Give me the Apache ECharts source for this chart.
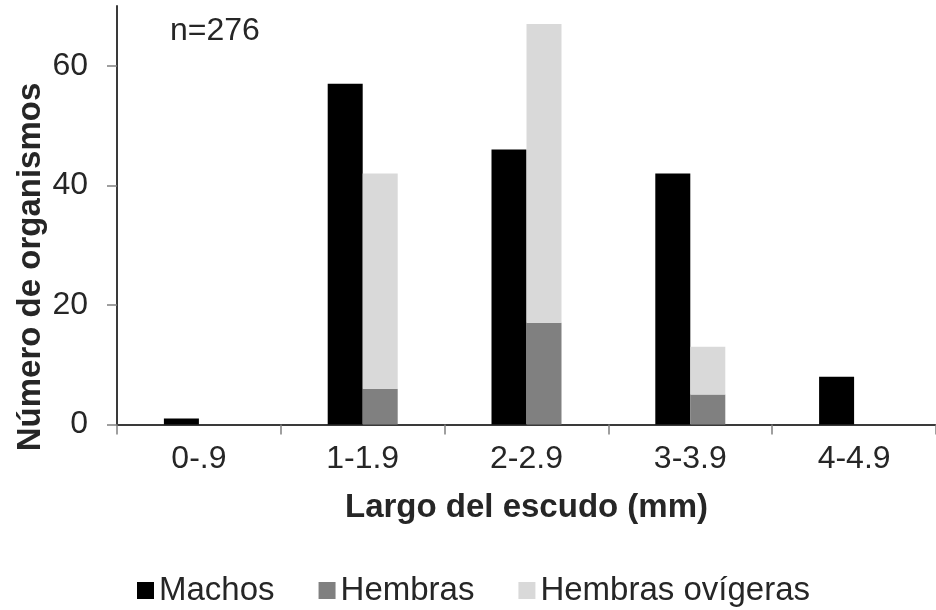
<!DOCTYPE html>
<html>
<head>
<meta charset="utf-8">
<script src="https://cdn.jsdelivr.net/npm/echarts@6/dist/echarts.min.js"></script>
<style>html,body{margin:0;padding:0;background:#fff;}#c{width:936px;height:610px;}</style>
</head>
<body>
<div id="c"></div>
<script>
const categories = ['0-.9', '1-1.9', '2-2.9', '3-3.9', '4-4.9'];
const machos = [1, 57, 46, 42, 8];
const hembras = [0, 6, 17, 5, 0];
const hembrasOvigeras = [0, 36, 50, 8, 0];
const yTicks = [0, 20, 40, 60];
const seriesNames = ['Machos', 'Hembras', 'Hembras ovígeras'];
const sampleLabel = 'n=276';

const FONT = 'Liberation Sans, Arial, sans-serif';
const TXT = '#262626';

const chart = echarts.init(document.getElementById('c'), null, {renderer: 'canvas'});
chart.setOption({
  animation: false,
  backgroundColor: '#ffffff',
  textStyle: {fontFamily: FONT},
  grid: {left: 117, width: 824, top: 6, height: 418.5, containLabel: false},
  legend: {
    data: seriesNames,
    left: 137,
    top: 574,
    padding: 0,
    itemWidth: 17,
    itemHeight: 17,
    itemGap: 44,
    icon: 'rect',
    textStyle: {fontFamily: FONT, fontSize: 33, color: TXT}
  },
  graphic: [
    {type: 'text', left: 170, top: 15, style: {text: sampleLabel, font: '32px ' + FONT, fill: TXT}},
    {type: 'text', x: 31, y: 267, rotation: Math.PI / 2,
     style: {text: 'Número de organismos', font: 'bold 33px ' + FONT, fill: TXT, align: 'center', verticalAlign: 'middle'}}
  ],
  xAxis: {
    type: 'category',
    data: categories,
    name: 'Largo del escudo (mm)',
    nameLocation: 'middle',
    nameGap: 67,
    nameTextStyle: {fontFamily: FONT, fontSize: 33, fontWeight: 'bold', color: TXT},
    axisLine: {show: true, lineStyle: {color: '#3a3a3a', width: 2}},
    axisTick: {show: true, alignWithLabel: false, length: 10, lineStyle: {color: '#808080', width: 1.5}},
    axisLabel: {fontFamily: FONT, fontSize: 32, color: TXT, margin: 19, interval: 0},
    splitLine: {show: false}
  },
  yAxis: {
    type: 'value',
    min: 0,
    max: 70,
    interval: 20,
    axisLine: {show: true, lineStyle: {color: '#3a3a3a', width: 2}},
    axisTick: {show: true, length: 10, customValues: yTicks, lineStyle: {color: '#808080', width: 1.5}},
    axisLabel: {fontFamily: FONT, fontSize: 32, color: TXT, margin: 29, customValues: yTicks},
    splitLine: {show: false}
  },
  series: [
    {name: seriesNames[0], type: 'bar', data: machos, barWidth: 35, barGap: '0%', itemStyle: {color: '#000000'}},
    {name: seriesNames[1], type: 'bar', stack: 'f', data: hembras, barWidth: 35, barGap: '0%', itemStyle: {color: '#808080'}},
    {name: seriesNames[2], type: 'bar', stack: 'f', data: hembrasOvigeras, barWidth: 35, barGap: '0%', itemStyle: {color: '#d9d9d9'}}
  ]
});
</script>
</body>
</html>
